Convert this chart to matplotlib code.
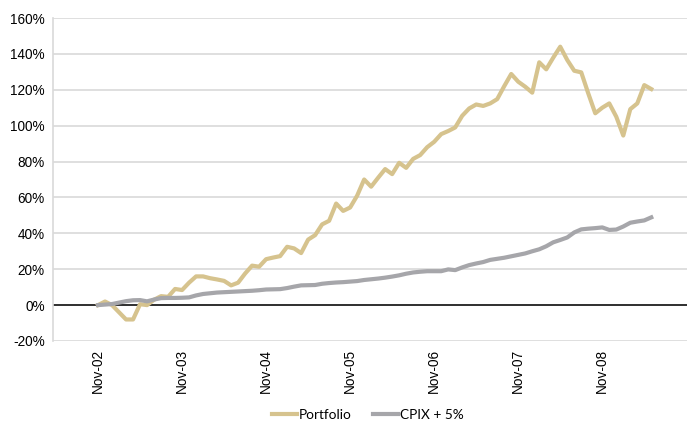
import matplotlib
matplotlib.use("Agg")
import matplotlib.pyplot as plt
import numpy as np

plt.rcParams['font.family'] = ['Liberation Sans', 'DejaVu Sans']

# months since Nov-02
tick_labels = ["Nov-02", "Nov-03", "Nov-04", "Nov-05", "Nov-06", "Nov-07", "Nov-08"]

portfolio = [0, 2, 0, -4, -8, -8, 0.5, 0, 3, 5, 4.6, 9, 8.4, 12.5, 16, 16, 15, 14.3,
             13.5, 11, 12.5, 17.6, 22, 21.4, 25.6, 26.5, 27.3, 32.5, 31.6, 29, 36.5, 39,
             45, 47, 56.6, 52.5, 54.4, 61, 70, 66, 71, 75.8, 73, 79.3, 76.5, 81.5, 83.6,
             88, 91, 95.3, 97, 99, 105.5, 109.6, 111.8, 111, 112.4, 114.8, 122, 128.8,
             124.5, 121.7, 118.4, 135.3, 131.4, 137.9, 144, 136.6, 130.6, 129.7, 118,
             106.9, 110, 112.4, 105, 94.5, 109.2, 112.4, 122.6, 120.4]

cpix = [0, 0.3, 0.6, 1.4, 2.2, 2.7, 2.8, 2.1, 3.1, 3.9, 4.0, 4.0, 4.1, 4.3, 5.4, 6.2,
        6.6, 7.0, 7.2, 7.4, 7.6, 7.8, 8.0, 8.3, 8.7, 8.8, 8.9, 9.5, 10.3, 11.0, 11.1,
        11.2, 11.9, 12.3, 12.6, 12.8, 13.1, 13.4, 14.0, 14.4, 14.8, 15.3, 15.9, 16.6,
        17.5, 18.2, 18.6, 18.9, 18.9, 18.9, 19.9, 19.5, 21.0, 22.3, 23.2, 24.0, 25.2,
        25.8, 26.4, 27.2, 28.0, 28.8, 30.0, 31.1, 32.8, 35.0, 36.3, 37.7, 40.5, 42.2,
        42.6, 42.9, 43.3, 41.9, 42.1, 43.8, 45.9, 46.6, 47.2, 48.9]

months = np.arange(len(portfolio))

fig = plt.figure(figsize=(6.88, 4.23), dpi=100)
ax = fig.add_axes([53/688, (423-341)/423, (687-53)/688, (341-18)/423])

yticks = np.arange(-20, 161, 20)
for y in yticks:
    ax.axhline(y, color='#d9d9d9', lw=1.2, zorder=0)
ax.axhline(0, color='black', lw=1.1, zorder=1)

ax.plot(months, portfolio, color='#D6C38E', lw=3.0, label='Portfolio', zorder=3,
        solid_joinstyle='round')
ax.plot(months, cpix, color='#A6A6AA', lw=3.0, label='CPIX + 5%', zorder=3,
        solid_joinstyle='round')

ax.set_ylim(-20, 160)
ax.set_xlim(-6.43, 84.1)
ax.set_yticks(yticks)
ax.set_yticklabels([f"{v}%" for v in yticks], fontsize=9.8, color='#000000')
ax.set_xticks(np.arange(0, 73, 12))
ax.set_xticklabels(tick_labels, rotation=90, fontsize=9.8)
ax.tick_params(axis='both', length=0)
ax.tick_params(axis='x', pad=6)
ax.tick_params(axis='y', pad=6)
for name, s in ax.spines.items():
    s.set_visible(name == 'left')
ax.spines['left'].set_color('#d9d9d9')
ax.spines['left'].set_linewidth(1.2)

leg = fig.legend(loc='center', bbox_to_anchor=(368/688, 1 - 415/423), ncol=2,
                 frameon=False, prop={'family': ['Lato', 'DejaVu Sans'], 'size': 9.8},
                 handlelength=1.8, columnspacing=1.6, handletextpad=0.15)

fig.savefig('out.png', dpi=100)
